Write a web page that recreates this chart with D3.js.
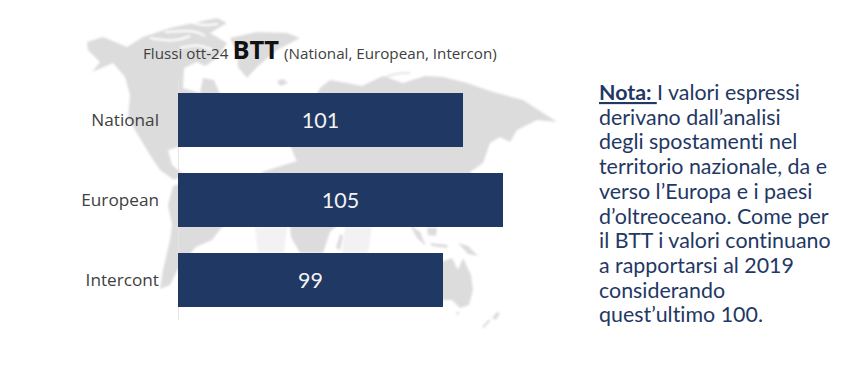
<!DOCTYPE html>
<html>
<head>
<meta charset="utf-8">
<script src="https://cdn.jsdelivr.net/npm/d3@7"></script>
<style>
  html, body { margin: 0; padding: 0; background: #fff; overflow: hidden; }
  text { font-variant-ligatures: none; }
  .tick text { font-family: "Open Sans", sans-serif; font-size: 17.2px; fill: #404040; }
</style>
</head>
<body>
<div id="main"></div>
<script>
const w = 863, h = 383;

const categories = ['National', 'European', 'Intercont'];
const values = [101, 105, 99];
const noteLines = [
  'I valori espressi',
  'derivano dall’analisi',
  'degli spostamenti nel',
  'territorio nazionale, da e',
  'verso l’Europa e i paesi',
  'd’oltreoceano. Come per',
  'il BTT i valori continuano',
  'a rapportarsi al 2019',
  'considerando',
  'quest’ultimo 100.'
];

// background world map, traced by hand in page pixels
const landShapes = [
  // north america
  [[87,42],[103,37],[127,47],[143,37],[170,28],[193,23],[217,18],[227,23],[210,33],[227,43],[217,58],[205,66],[197,62],[184,68],[183,88],[200,93],[203,78],[214,80],[220,94],[240,110],[232,130],[205,142],[182,146],[168,150],[172,165],[184,175],[174,180],[160,170],[150,155],[138,135],[128,118],[130,95],[125,77],[113,63],[92,72],[100,62],[88,50]],
  // greenland
  [[230,38],[257,32],[287,33],[300,38],[277,50],[257,67],[247,78],[238,67],[237,53]],
  // iceland
  [[277,81],[283,79],[288,83],[280,86]],
  // south america
  [[173,186],[200,178],[240,195],[252,212],[222,227],[212,240],[196,247],[180,265],[170,285],[160,289],[163,270],[170,240],[172,225],[168,205]],
  // eurasia
  [[330,80],[347,83],[362,86],[383,76],[403,83],[425,76],[443,77],[467,83],[493,92],[523,100],[557,122],[537,120],[517,130],[510,142],[500,137],[490,143],[483,163],[470,172],[480,190],[470,215],[440,222],[425,205],[405,225],[388,205],[360,190],[345,172],[320,168],[296,160],[290,145],[310,110],[320,88]],
  // africa
  [[262,172],[300,160],[350,165],[360,195],[345,218],[330,232],[323,253],[300,253],[291,237],[288,205],[262,198]],
  // madagascar
  [[336,248],[340,234],[343,236],[340,250]],
  // indonesia
  [[410,225],[420,232],[426,246],[417,238]],
  [[427,228],[437,228],[436,236],[428,235]],
  [[430,243],[448,245],[447,248],[432,246]],
  [[458,243],[468,246],[478,256],[468,254]],
  // australia
  [[436,264],[452,258],[458,270],[463,258],[471,275],[473,290],[469,305],[460,308],[452,300],[436,300]],
  [[456,312],[459,312],[458,316]],
  // new zealand
  [[497,312],[500,313],[496,320],[492,318]],
  [[491,320],[484,328],[482,327],[488,320]]
];
const paleShapes = [
  [[255,227],[287,227],[284,253],[258,253]],
  [[345,227],[372,227],[368,253],[342,253]]
];
// white channels through the arctic islands
const arcticChannels = [
  [[150,38],[175,42],[190,36]],
  [[165,32],[195,30],[205,36]],
  [[180,48],[200,44],[212,50]],
  [[190,22],[205,26],[218,24]]
];

const svg = d3.select('#main')
              .append('svg')
              .attr('width', w)
              .attr('height', h)
              .style('display', 'block');

svg.append('defs')
   .append('filter')
   .attr('id', 'soft')
   .append('feGaussianBlur')
   .attr('stdDeviation', 0.9);

const outline = d3.line().curve(d3.curveLinearClosed);
const channel = d3.line().curve(d3.curveBasis);

const map = svg.append('g').attr('filter', 'url(#soft)');

map.selectAll('.pale')
   .data(paleShapes)
   .enter()
   .append('path')
   .attr('class', 'pale')
   .attr('d', outline)
   .attr('fill', '#f2f2f2');

map.selectAll('.land')
   .data(landShapes)
   .enter()
   .append('path')
   .attr('class', 'land')
   .attr('d', outline)
   .attr('fill', '#dcdcdc');

map.selectAll('.channel')
   .data(arcticChannels)
   .enter()
   .append('path')
   .attr('class', 'channel')
   .attr('d', channel)
   .attr('fill', 'none')
   .attr('stroke', '#fff')
   .attr('stroke-width', 2);

// thin arctic island
map.append('path')
   .attr('d', 'M381,80 Q392,72 410,73')
   .attr('fill', 'none')
   .attr('stroke', '#dedede')
   .attr('stroke-width', 1.5);

// axis does not start at zero: 10px per unit
const x = d3.scaleLinear().domain([72.5, 105]).range([178, 503]);
const y = d3.scaleBand()
            .domain(categories)
            .range([80, 320])
            .paddingInner(0.325)
            .paddingOuter(0.1625);

const axis = svg.append('g')
                .attr('transform', 'translate(' + x.range()[0] + ',0)')
                .call(d3.axisLeft(y).tickSize(0).tickPadding(19));

axis.select('.domain')
    .attr('stroke', '#e4e4e4')
    .attr('stroke-width', 1);

svg.selectAll('.bar')
   .data(values)
   .enter()
   .append('rect')
   .attr('class', 'bar')
   .attr('x', x(72.5))
   .attr('y', (d, i) => y(categories[i]))
   .attr('width', (d) => x(d) - x(72.5))
   .attr('height', y.bandwidth())
   .attr('fill', '#1f3864');

svg.selectAll('.val')
   .data(values)
   .enter()
   .append('text')
   .attr('class', 'val')
   .attr('x', (d) => (x(72.5) + x(d)) / 2)
   .attr('y', (d, i) => y(categories[i]) + y.bandwidth() / 2 + 8)
   .attr('text-anchor', 'middle')
   .attr('font-family', 'Lato, sans-serif')
   .attr('font-size', 21.5)
   .attr('fill', '#f2f2f2')
   .text((d) => d);

// title
const title = svg.append('text')
                 .attr('x', 143)
                 .attr('y', 59)
                 .attr('font-family', '"Open Sans", sans-serif')
                 .attr('fill', '#404040');

title.append('tspan')
     .attr('font-size', 15.2)
     .text('Flussi ott-24 ');
title.append('tspan')
     .attr('font-size', 25.5)
     .attr('font-weight', 'bold')
     .attr('fill', '#111')
     .text('BTT');
title.append('tspan')
     .attr('font-size', 15.2)
     .attr('dx', 5)
     .text('(National, European, Intercon)');

// note on the right
const note = svg.append('g')
                .attr('font-family', 'Lato, sans-serif')
                .attr('font-size', 21.4)
                .attr('fill', '#1f3864');

note.selectAll('text')
    .data(noteLines)
    .enter()
    .append('text')
    .attr('x', (d, i) => i == 0 ? 657 : 599)
    .attr('y', (d, i) => 100 + i * 24.7)
    .text((d) => d);

note.append('text')
    .attr('x', 599)
    .attr('y', 100)
    .attr('font-weight', 'bold')
    .attr('text-decoration', 'underline')
    .style('white-space', 'pre')
    .text('Nota: ');
</script>
</body>
</html>
